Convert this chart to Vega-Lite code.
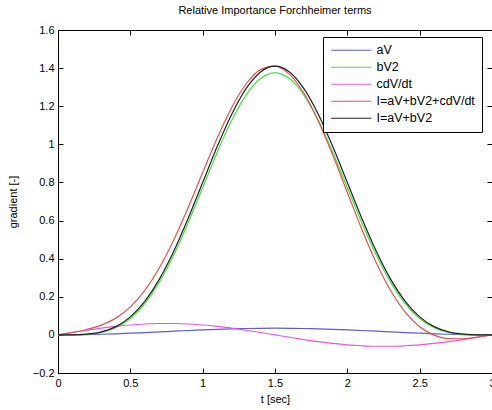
{
"$schema":"https://vega.github.io/schema/vega-lite/v6.json",
"width":434,"height":343,
"autosize":{"type":"none"},
"padding":{"left":58,"top":30,"right":0,"bottom":37},
"background":"white",
"config":{"view":{"stroke":"#000","strokeWidth":1},"font":"Liberation Sans",
 "axis":{"labelFont":"Liberation Sans","titleFont":"Liberation Sans","labelFontSize":11,"titleFontSize":11,"titleFontWeight":"normal","labelColor":"#000","titleColor":"#000","domainColor":"#000","tickColor":"#000","grid":false,"labelFlush":false,"labelOverlap":false,"format":"~g"}},
"title":{"text":"Relative Importance Forchheimer terms","fontSize":11,"fontWeight":"normal","offset":8,"color":"#000","anchor":"middle","font":"Liberation Sans"},
"data":{"values":[
{"t":0,"s":"aV","v":0},{"t":0.1,"s":"aV","v":0.0004},{"t":0.2,"s":"aV","v":0.0015},{"t":0.3,"s":"aV","v":0.0033},{"t":0.4,"s":"aV","v":0.0058},{"t":0.5,"s":"aV","v":0.0088},{"t":0.6,"s":"aV","v":0.0121},{"t":0.7,"s":"aV","v":0.0157},{"t":0.8,"s":"aV","v":0.0193},{"t":0.9,"s":"aV","v":0.0229},{"t":1.0,"s":"aV","v":0.0263},{"t":1.1,"s":"aV","v":0.0292},{"t":1.2,"s":"aV","v":0.0317},{"t":1.3,"s":"aV","v":0.0335},{"t":1.4,"s":"aV","v":0.0346},{"t":1.5,"s":"aV","v":0.035},{"t":1.6,"s":"aV","v":0.0346},{"t":1.7,"s":"aV","v":0.0335},{"t":1.8,"s":"aV","v":0.0317},{"t":1.9,"s":"aV","v":0.0292},{"t":2.0,"s":"aV","v":0.0263},{"t":2.1,"s":"aV","v":0.0229},{"t":2.2,"s":"aV","v":0.0193},{"t":2.3,"s":"aV","v":0.0157},{"t":2.4,"s":"aV","v":0.0121},{"t":2.5,"s":"aV","v":0.0088},{"t":2.6,"s":"aV","v":0.0058},{"t":2.7,"s":"aV","v":0.0033},{"t":2.8,"s":"aV","v":0.0015},{"t":2.9,"s":"aV","v":0.0004},{"t":3.0,"s":"aV","v":0},
{"t":0,"s":"bV2","v":0},{"t":0.1,"s":"bV2","v":0.0002},{"t":0.2,"s":"bV2","v":0.0026},{"t":0.3,"s":"bV2","v":0.0125},{"t":0.4,"s":"bV2","v":0.0376},{"t":0.5,"s":"bV2","v":0.0859},{"t":0.6,"s":"bV2","v":0.1641},{"t":0.7,"s":"bV2","v":0.2756},{"t":0.8,"s":"bV2","v":0.4194},{"t":0.9,"s":"bV2","v":0.589},{"t":1.0,"s":"bV2","v":0.7734},{"t":1.1,"s":"bV2","v":0.9577},{"t":1.2,"s":"bV2","v":1.1249},{"t":1.3,"s":"bV2","v":1.2587},{"t":1.4,"s":"bV2","v":1.3451},{"t":1.5,"s":"bV2","v":1.375},{"t":1.6,"s":"bV2","v":1.3451},{"t":1.7,"s":"bV2","v":1.2587},{"t":1.8,"s":"bV2","v":1.1249},{"t":1.9,"s":"bV2","v":0.9577},{"t":2.0,"s":"bV2","v":0.7734},{"t":2.1,"s":"bV2","v":0.589},{"t":2.2,"s":"bV2","v":0.4194},{"t":2.3,"s":"bV2","v":0.2756},{"t":2.4,"s":"bV2","v":0.1641},{"t":2.5,"s":"bV2","v":0.0859},{"t":2.6,"s":"bV2","v":0.0376},{"t":2.7,"s":"bV2","v":0.0125},{"t":2.8,"s":"bV2","v":0.0026},{"t":2.9,"s":"bV2","v":0.0002},{"t":3.0,"s":"bV2","v":0},
{"t":0,"s":"cdV/dt","v":0},{"t":0.1,"s":"cdV/dt","v":0.0125},{"t":0.2,"s":"cdV/dt","v":0.0244},{"t":0.3,"s":"cdV/dt","v":0.0353},{"t":0.4,"s":"cdV/dt","v":0.0446},{"t":0.5,"s":"cdV/dt","v":0.052},{"t":0.6,"s":"cdV/dt","v":0.0571},{"t":0.7,"s":"cdV/dt","v":0.0597},{"t":0.8,"s":"cdV/dt","v":0.0597},{"t":0.9,"s":"cdV/dt","v":0.0571},{"t":1.0,"s":"cdV/dt","v":0.052},{"t":1.1,"s":"cdV/dt","v":0.0446},{"t":1.2,"s":"cdV/dt","v":0.0353},{"t":1.3,"s":"cdV/dt","v":0.0244},{"t":1.4,"s":"cdV/dt","v":0.0125},{"t":1.5,"s":"cdV/dt","v":0},{"t":1.6,"s":"cdV/dt","v":-0.0125},{"t":1.7,"s":"cdV/dt","v":-0.0244},{"t":1.8,"s":"cdV/dt","v":-0.0353},{"t":1.9,"s":"cdV/dt","v":-0.0446},{"t":2.0,"s":"cdV/dt","v":-0.052},{"t":2.1,"s":"cdV/dt","v":-0.0571},{"t":2.2,"s":"cdV/dt","v":-0.0597},{"t":2.3,"s":"cdV/dt","v":-0.0597},{"t":2.4,"s":"cdV/dt","v":-0.0571},{"t":2.5,"s":"cdV/dt","v":-0.052},{"t":2.6,"s":"cdV/dt","v":-0.0446},{"t":2.7,"s":"cdV/dt","v":-0.0353},{"t":2.8,"s":"cdV/dt","v":-0.0244},{"t":2.9,"s":"cdV/dt","v":-0.0125},{"t":3.0,"s":"cdV/dt","v":0},
{"t":0,"s":"I=aV+bV2+cdV/dt","v":0},{"t":0.1,"s":"I=aV+bV2+cdV/dt","v":0.013},{"t":0.2,"s":"I=aV+bV2+cdV/dt","v":0.0285},{"t":0.3,"s":"I=aV+bV2+cdV/dt","v":0.0511},{"t":0.4,"s":"I=aV+bV2+cdV/dt","v":0.088},{"t":0.5,"s":"I=aV+bV2+cdV/dt","v":0.1467},{"t":0.6,"s":"I=aV+bV2+cdV/dt","v":0.2333},{"t":0.7,"s":"I=aV+bV2+cdV/dt","v":0.351},{"t":0.8,"s":"I=aV+bV2+cdV/dt","v":0.4984},{"t":0.9,"s":"I=aV+bV2+cdV/dt","v":0.669},{"t":1.0,"s":"I=aV+bV2+cdV/dt","v":0.8517},{"t":1.1,"s":"I=aV+bV2+cdV/dt","v":1.0315},{"t":1.2,"s":"I=aV+bV2+cdV/dt","v":1.1919},{"t":1.3,"s":"I=aV+bV2+cdV/dt","v":1.3166},{"t":1.4,"s":"I=aV+bV2+cdV/dt","v":1.3922},{"t":1.5,"s":"I=aV+bV2+cdV/dt","v":1.41},{"t":1.6,"s":"I=aV+bV2+cdV/dt","v":1.3673},{"t":1.7,"s":"I=aV+bV2+cdV/dt","v":1.2678},{"t":1.8,"s":"I=aV+bV2+cdV/dt","v":1.1213},{"t":1.9,"s":"I=aV+bV2+cdV/dt","v":0.9423},{"t":2.0,"s":"I=aV+bV2+cdV/dt","v":0.7477},{"t":2.1,"s":"I=aV+bV2+cdV/dt","v":0.5549},{"t":2.2,"s":"I=aV+bV2+cdV/dt","v":0.379},{"t":2.3,"s":"I=aV+bV2+cdV/dt","v":0.2316},{"t":2.4,"s":"I=aV+bV2+cdV/dt","v":0.1192},{"t":2.5,"s":"I=aV+bV2+cdV/dt","v":0.0427},{"t":2.6,"s":"I=aV+bV2+cdV/dt","v":-0.0012},{"t":2.7,"s":"I=aV+bV2+cdV/dt","v":-0.0194},{"t":2.8,"s":"I=aV+bV2+cdV/dt","v":-0.0203},{"t":2.9,"s":"I=aV+bV2+cdV/dt","v":-0.0119},{"t":3.0,"s":"I=aV+bV2+cdV/dt","v":0},
{"t":0,"s":"I=aV+bV2","v":0},{"t":0.1,"s":"I=aV+bV2","v":0.0005},{"t":0.2,"s":"I=aV+bV2","v":0.0041},{"t":0.3,"s":"I=aV+bV2","v":0.0159},{"t":0.4,"s":"I=aV+bV2","v":0.0434},{"t":0.5,"s":"I=aV+bV2","v":0.0947},{"t":0.6,"s":"I=aV+bV2","v":0.1762},{"t":0.7,"s":"I=aV+bV2","v":0.2913},{"t":0.8,"s":"I=aV+bV2","v":0.4387},{"t":0.9,"s":"I=aV+bV2","v":0.6119},{"t":1.0,"s":"I=aV+bV2","v":0.7997},{"t":1.1,"s":"I=aV+bV2","v":0.9869},{"t":1.2,"s":"I=aV+bV2","v":1.1566},{"t":1.3,"s":"I=aV+bV2","v":1.2922},{"t":1.4,"s":"I=aV+bV2","v":1.3797},{"t":1.5,"s":"I=aV+bV2","v":1.41},{"t":1.6,"s":"I=aV+bV2","v":1.3797},{"t":1.7,"s":"I=aV+bV2","v":1.2922},{"t":1.8,"s":"I=aV+bV2","v":1.1566},{"t":1.9,"s":"I=aV+bV2","v":0.9869},{"t":2.0,"s":"I=aV+bV2","v":0.7997},{"t":2.1,"s":"I=aV+bV2","v":0.6119},{"t":2.2,"s":"I=aV+bV2","v":0.4387},{"t":2.3,"s":"I=aV+bV2","v":0.2913},{"t":2.4,"s":"I=aV+bV2","v":0.1762},{"t":2.5,"s":"I=aV+bV2","v":0.0947},{"t":2.6,"s":"I=aV+bV2","v":0.0434},{"t":2.7,"s":"I=aV+bV2","v":0.0159},{"t":2.8,"s":"I=aV+bV2","v":0.0041},{"t":2.9,"s":"I=aV+bV2","v":0.0005},{"t":3.0,"s":"I=aV+bV2","v":0}
]},
"layer":[
{"mark":{"type":"line","interpolate":"monotone","strokeWidth":1.2,"clip":true},
 "encoding":{
  "x":{"field":"t","type":"quantitative","scale":{"domain":[0,3],"nice":false,"zero":false},
       "axis":{"title":"t [sec]","values":[0,0.5,1,1.5,2,2.5,3],"tickSize":-5,"labelPadding":9,"titlePadding":5}},
  "y":{"field":"v","type":"quantitative","scale":{"domain":[-0.2,1.6],"nice":false,"zero":false},
       "axis":{"title":"gradient [-]","values":[-0.2,0,0.2,0.4,0.6,0.8,1,1.2,1.4,1.6],"tickSize":-5,"labelPadding":9,"titlePadding":14}},
  "color":{"field":"s","type":"nominal",
    "scale":{"domain":["aV","bV2","cdV/dt","I=aV+bV2+cdV/dt","I=aV+bV2"],"range":["#5a5ae6","#44e044","#f050f0","#e85050","#222222"]},
    "legend":{"title":null,"orient":"none","legendX":265,"legendY":7,"strokeColor":"#000","fillColor":"#fff","padding":7,"symbolType":"M-1,0H7","symbolSize":100,"symbolStrokeWidth":1.2,"labelFontSize":12.5,"labelFont":"Liberation Sans","labelColor":"#000","labelOffset":34,"rowPadding":4}},
  "order":{"field":"t","type":"quantitative"}
 }},
{"mark":{"type":"line","opacity":0},
 "encoding":{
  "x":{"field":"t","type":"quantitative","axis":{"orient":"top","labels":false,"title":null,"values":[0,0.5,1,1.5,2,2.5,3],"tickSize":-5,"domain":false}},
  "y":{"field":"v","type":"quantitative","axis":{"orient":"right","labels":false,"title":null,"values":[-0.2,0,0.2,0.4,0.6,0.8,1,1.2,1.4,1.6],"tickSize":-5,"domain":false}},
  "detail":{"field":"s"}
 }}
],
"resolve":{"axis":{"x":"independent","y":"independent"}}
}
